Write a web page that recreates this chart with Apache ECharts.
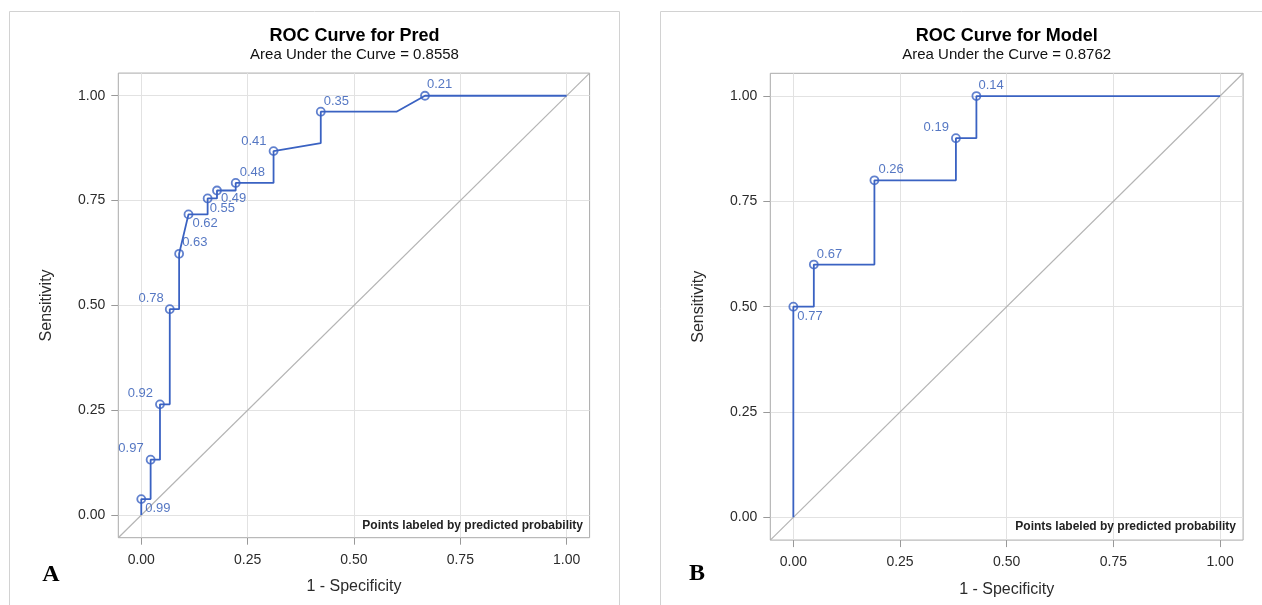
<!DOCTYPE html>
<html>
<head>
<meta charset="utf-8">
<script src="https://cdn.jsdelivr.net/npm/echarts@6/dist/echarts.min.js"></script>
<style>
html,body{margin:0;padding:0;background:#fff;}
#chart{width:1262px;height:605px;}
</style>
</head>
<body>
<div id="chart"></div>
<script>
// ---- Data ----
const tickValues = [0, 0.25, 0.5, 0.75, 1];

// Panel A: ROC curve for Pred (path vertices, labels where a point is marked)
const fprA = [0, 0, 0.022, 0.022, 0.044, 0.044, 0.067, 0.067, 0.089, 0.089, 0.111, 0.156, 0.156, 0.178, 0.178, 0.222, 0.222, 0.311, 0.311, 0.422, 0.422, 0.600, 0.667, 1];
const tprA = [0, 0.038, 0.038, 0.132, 0.132, 0.264, 0.264, 0.491, 0.491, 0.623, 0.717, 0.717, 0.755, 0.755, 0.774, 0.774, 0.792, 0.792, 0.868, 0.887, 0.962, 0.962, 1, 1];
const labA = [null, '0.99', null, '0.97', null, '0.92', null, '0.78', null, '0.63', '0.62', null, '0.55', null, '0.49', null, '0.48', null, '0.41', null, '0.35', null, '0.21', null];

// Panel B: ROC curve for Model
const fprB = [0, 0, 0.048, 0.048, 0.190, 0.190, 0.381, 0.381, 0.429, 0.429, 1];
const tprB = [0, 0.5, 0.5, 0.6, 0.6, 0.8, 0.8, 0.9, 0.9, 1, 1];
const labB = [null, '0.77', null, '0.67', null, '0.26', null, '0.19', null, '0.14', null];

const titleA = 'ROC Curve for Pred';
const subA = 'Area Under the Curve = 0.8558';
const titleB = 'ROC Curve for Model';
const subB = 'Area Under the Curve = 0.8762';
const noteText = 'Points labeled by predicted probability';
const xName = '1 - Specificity';
const yName = 'Sensitivity';

// ---- Styling / layout ----
const FONT = '"Liberation Sans", Arial, sans-serif';
const LO = -0.054, HI = 1.054;
const BLUE = '#3a62c2';
const LBLUE = '#2a55b4';

const placeA = {
  '0.99':['left',4,9], '0.97':['right',-7,-11], '0.92':['right',-7,-11], '0.78':['right',-6,-11],
  '0.63':['left',3,-11], '0.62':['left',4,9], '0.55':['left',2,9.5], '0.49':['left',4,8],
  '0.48':['left',4,-11], '0.41':['right',-7,-10], '0.35':['left',3,-10], '0.21':['left',2,-11]
};
const placeB = {
  '0.77':['left',4,10], '0.67':['left',3,-10.5], '0.26':['left',4,-10.5], '0.19':['right',-7,-10.5], '0.14':['left',2,-10.5]
};

function pathData(xs, ys){ return xs.map((x,i)=>[x, ys[i]]); }
function pointData(xs, ys, labs, place){
  const out = [];
  labs.forEach((l,i)=>{
    if(l===null) return;
    const p = place[l];
    out.push({
      value:[xs[i], ys[i]],
      label:{show:true, position:'inside', formatter:l, align:p[0], verticalAlign:'middle',
             offset:[p[1], p[2]], color:LBLUE, fontSize:13, fontFamily:FONT}
    });
  });
  return out;
}

function xAxisCfg(gi){
  return {
    type:'value', gridIndex:gi, min:LO, max:HI,
    name:xName, nameLocation:'middle', nameGap:41,
    nameTextStyle:{fontSize:16, color:'#2b2b2b', fontFamily:FONT},
    axisLine:{show:false, onZero:false},
    axisTick:{show:true, customValues:tickValues, length:7, lineStyle:{color:'#999'}},
    axisLabel:{customValues:tickValues, formatter:v=>v.toFixed(2), fontSize:14, color:'#2b2b2b', margin:15, fontFamily:FONT},
    splitLine:{show:true, lineStyle:{color:'#e2e2e2', width:1}}
  };
}
function yAxisCfg(gi){
  return {
    type:'value', gridIndex:gi, min:LO, max:HI,
    name:yName, nameLocation:'middle', nameGap:64,
    nameTextStyle:{fontSize:16, color:'#2b2b2b', fontFamily:FONT},
    axisLine:{show:false, onZero:false},
    axisTick:{show:true, customValues:tickValues, length:7, lineStyle:{color:'#999'}},
    axisLabel:{customValues:tickValues, formatter:v=>v.toFixed(2), fontSize:14, color:'#2b2b2b', margin:13, fontFamily:FONT},
    splitLine:{show:true, lineStyle:{color:'#e2e2e2', width:1}}
  };
}

function seriesFor(gi, xs, ys, labs, place){
  return [
    {type:'line', xAxisIndex:gi, yAxisIndex:gi, data:[[LO,LO],[HI,HI]], symbol:'none', silent:true,
     lineStyle:{color:'#b4b4b4', width:1.2}, z:2},
    {type:'line', xAxisIndex:gi, yAxisIndex:gi, data:pathData(xs, ys), symbol:'none', silent:true,
     lineStyle:{color:BLUE, width:1.8}, z:3},
    {type:'scatter', xAxisIndex:gi, yAxisIndex:gi, data:pointData(xs, ys, labs, place),
     symbol:'circle', symbolSize:8, itemStyle:{color:'rgba(0,0,0,0)', borderColor:BLUE, borderWidth:1.8}, z:4}
  ];
}

function txt(x, y, text, size, weight, family, fill, align){
  return {type:'text', x:x, y:y, silent:true, z:10, style:{
    text:text, fontSize:size, fontWeight:weight, fontFamily:family, fill:fill,
    align:align||'center', textAlign:align||'center', verticalAlign:'middle', textVerticalAlign:'middle'}};
}

const chart = echarts.init(document.getElementById('chart'), null, {renderer:'canvas'});
chart.setOption({
  animation:false,
  backgroundColor:'#fff',
  grid:[
    {left:118.3, top:73.1, width:471.3, height:464.6, show:true, borderColor:'#a9a9a9', borderWidth:1, backgroundColor:'rgba(0,0,0,0)'},
    {left:770.3, top:73.3, width:472.8, height:466.8, show:true, borderColor:'#a9a9a9', borderWidth:1, backgroundColor:'rgba(0,0,0,0)'}
  ],
  xAxis:[xAxisCfg(0), xAxisCfg(1)],
  yAxis:[yAxisCfg(0), yAxisCfg(1)],
  series:[].concat(seriesFor(0, fprA, tprA, labA, placeA), seriesFor(1, fprB, tprB, labB, placeB)),
  graphic:[
    {type:'rect', silent:true, z:0, shape:{x:9.5, y:11.5, width:610, height:700}, style:{fill:'none', stroke:'#d2d2d2', lineWidth:1}},
    {type:'rect', silent:true, z:0, shape:{x:660.5, y:11.5, width:700, height:700}, style:{fill:'none', stroke:'#d2d2d2', lineWidth:1}},
    txt(354.5, 36, titleA, 18, 'bold', FONT, '#000'),
    txt(354.5, 54.5, subA, 15, 'normal', FONT, '#111'),
    txt(1006.7, 36, titleB, 18, 'bold', FONT, '#000'),
    txt(1006.7, 54.5, subB, 15, 'normal', FONT, '#111'),
    txt(583, 526, noteText, 12, 'bold', FONT, '#222', 'right'),
    txt(1236, 527, noteText, 12, 'bold', FONT, '#222', 'right'),
    txt(51, 575, 'A', 24, 'bold', '"Liberation Serif", "Times New Roman", serif', '#000'),
    txt(697, 574, 'B', 24, 'bold', '"Liberation Serif", "Times New Roman", serif', '#000')
  ]
});
</script>
</body>
</html>
